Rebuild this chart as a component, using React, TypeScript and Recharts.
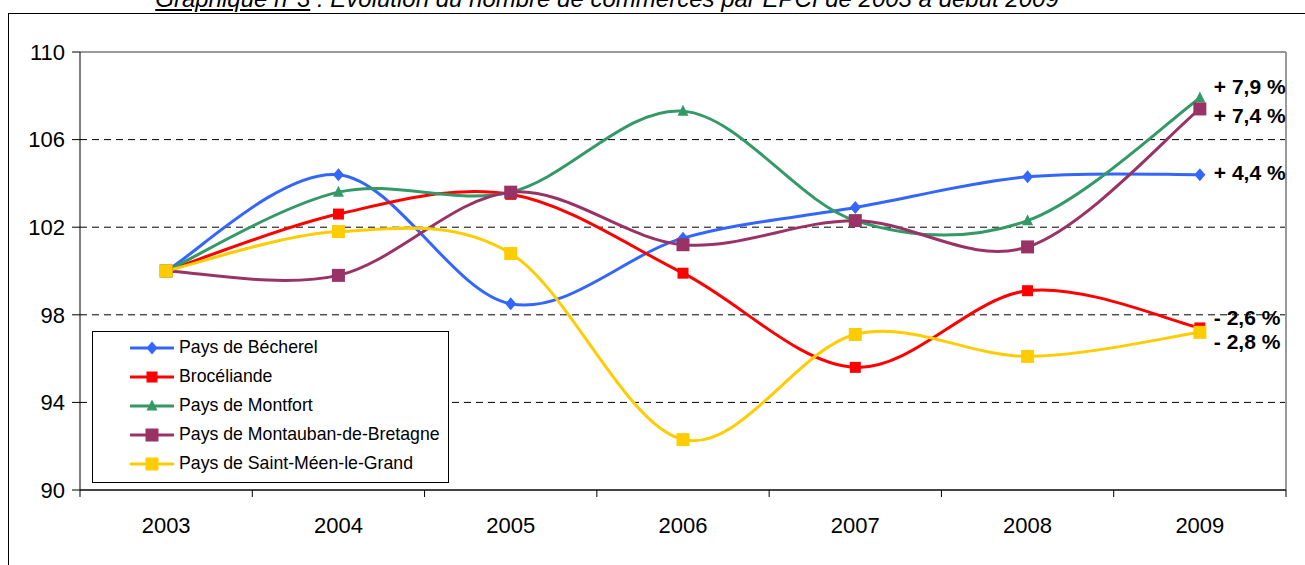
import React from "react";
import { LineChart, Line, XAxis, YAxis, CartesianGrid, Legend, ReferenceLine } from "recharts";

const years = ["2003", "2004", "2005", "2006", "2007", "2008", "2009"];
const becherel = [100, 104.4, 98.5, 101.5, 102.9, 104.3, 104.4];
const broceliande = [100, 102.6, 103.5, 99.9, 95.6, 99.1, 97.4];
const montfort = [100, 103.6, 103.6, 107.3, 102.3, 102.3, 107.9];
const montauban = [100, 99.8, 103.6, 101.2, 102.3, 101.1, 107.4];
const saintMeen = [100, 101.8, 100.8, 92.3, 97.1, 96.1, 97.2];
const seriesNames = [
  "Pays de Bécherel",
  "Brocéliande",
  "Pays de Montfort",
  "Pays de Montauban-de-Bretagne",
  "Pays de Saint-Méen-le-Grand",
];
const endLabels = ["+ 4,4 %", "- 2,6 %", "+ 7,9 %", "+ 7,4 %", "- 2,8 %"];
const yTicks = [90, 94, 98, 102, 106, 110];
const titleLead = "Graphique n°3";
const titleRest = " : Evolution du nombre de commerces par EPCI de 2003 à début 2009";

const W = 1305;
const H = 565;
const margin = { top: 52, right: 19, bottom: 0, left: 0 };
const Y_AXIS_W = 80;
const X_AXIS_H = 75;
const FONT = "'Liberation Sans', Arial, sans-serif";

const data = years.map((year, i) => ({
  year,
  becherel: becherel[i],
  broceliande: broceliande[i],
  montfort: montfort[i],
  montauban: montauban[i],
  saintMeen: saintMeen[i],
}));

// style of each series, same order as seriesNames / endLabels
const styles = [
  { key: "becherel", color: "#3366FF", shape: "diamond", size: 11, labelDy: -2 },
  { key: "broceliande", color: "#FF0000", shape: "square", size: 11, labelDy: -10 },
  { key: "montfort", color: "#339966", shape: "triangle", size: 11, labelDy: -11 },
  { key: "montauban", color: "#993366", shape: "square", size: 13, labelDy: 7 },
  { key: "saintMeen", color: "#FFCC00", shape: "square", size: 13, labelDy: 9 },
];

// excel-like smoothed line (catmull-rom style bezier)
const excelCurve = (context: any) => {
  let pts: number[][] = [];
  return {
    areaStart() {},
    areaEnd() {},
    lineStart() {
      pts = [];
    },
    point(x: number, y: number) {
      pts.push([+x, +y]);
    },
    lineEnd() {
      const n = pts.length;
      if (!n) return;
      context.moveTo(pts[0][0], pts[0][1]);
      for (let i = 0; i < n - 1; i++) {
        const p0 = pts[Math.max(i - 1, 0)];
        const p1 = pts[i];
        const p2 = pts[i + 1];
        const p3 = pts[Math.min(i + 2, n - 1)];
        context.bezierCurveTo(
          p1[0] + (p2[0] - p0[0]) / 6,
          p1[1] + (p2[1] - p0[1]) / 6,
          p2[0] - (p3[0] - p1[0]) / 6,
          p2[1] - (p3[1] - p1[1]) / 6,
          p2[0],
          p2[1]
        );
      }
    },
  };
};

function Marker({ cx, cy, shape, size, color }: any) {
  const h = size / 2;
  if (shape === "diamond")
    return <path d={`M${cx},${cy - h - 1}L${cx + h},${cy}L${cx},${cy + h + 1}L${cx - h},${cy}Z`} fill={color} />;
  if (shape === "triangle")
    return <path d={`M${cx},${cy - h - 1}L${cx + h},${cy + h - 1}L${cx - h},${cy + h - 1}Z`} fill={color} />;
  return <rect x={cx - h} y={cy - h} width={size} height={size} fill={color} />;
}

const makeDot = (s: any, label: string) => (props: any) => {
  const { cx, cy, index } = props;
  const last = index === years.length - 1;
  return (
    <g key={`dot-${s.key}-${index}`}>
      <Marker cx={cx} cy={cy} shape={s.shape} size={s.size} color={s.color} />
      {last && (
        <text x={cx + 14} y={cy + s.labelDy} dy="0.35em" fontSize={21} fontWeight="bold" fill="#000">
          {label}
        </text>
      )}
    </g>
  );
};

const halfBand = (W - margin.left - margin.right - Y_AXIS_W) / years.length / 2;

const XTick = (props: any) => {
  const { x, y, payload, index } = props;
  const half = payload && payload.offset ? payload.offset : halfBand;
  const last = index === years.length - 1;
  return (
    <g>
      <line x1={x - half} x2={x - half} y1={y} y2={y + 7} stroke="#000" />
      {last && <line x1={x + half} x2={x + half} y1={y} y2={y + 7} stroke="#000" />}
      <text x={x} y={y + 43} textAnchor="middle" fontSize={22} fill="#000">
        {payload.value}
      </text>
    </g>
  );
};

const LegendBox = () => (
  <div style={{ paddingTop: 1, fontFamily: FONT }}>
    {styles.map((s, i) => (
      <div key={s.key} style={{ display: "flex", alignItems: "center", height: 29, paddingLeft: 37 }}>
        <svg width={44} height={20} style={{ display: "block" }}>
          <line x1={0} x2={44} y1={10} y2={10} stroke={s.color} strokeWidth={3} />
          <Marker cx={22} cy={10} shape={s.shape} size={s.size} color={s.color} />
        </svg>
        <span style={{ marginLeft: 5, fontSize: 17.7, color: "#000", whiteSpace: "nowrap" }}>{seriesNames[i]}</span>
      </div>
    ))}
  </div>
);

export default function App() {
  return (
    <div
      style={{
        position: "absolute",
        left: 0,
        top: 0,
        width: W,
        height: H,
        overflow: "hidden",
        background: "#fff",
        fontFamily: FONT,
      }}
    >
      <div
        style={{
          position: "absolute",
          left: 607,
          top: -13,
          transform: "translateX(-50%)",
          whiteSpace: "nowrap",
          fontSize: 24,
          lineHeight: "24px",
          fontStyle: "italic",
          color: "#000",
        }}
      >
        <span style={{ textDecoration: "underline" }}>{titleLead}</span>
        {titleRest}
      </div>
      <div
        style={{
          position: "absolute",
          left: 8,
          top: 13,
          width: 1400,
          height: 700,
          borderLeft: "1.5px solid #000",
          borderTop: "1.5px solid #000",
        }}
      />
      <div style={{ position: "absolute", left: 0, top: 0 }}>
        <LineChart width={W} height={H} data={data} margin={margin}>
          <CartesianGrid vertical={false} stroke="#000" strokeDasharray="7 5" fill="#fff" />
          <CartesianGrid
            horizontal={false}
            stroke="#999"
            strokeWidth={2}
            verticalCoordinatesGenerator={({ offset }: any) => [offset.left + offset.width]}
          />
          <ReferenceLine y={110} stroke="#999" strokeWidth={2} />
          <XAxis
            dataKey="year"
            scale="band"
            height={X_AXIS_H}
            axisLine={{ stroke: "#444", strokeWidth: 2 }}
            tickLine={false}
            tickSize={0}
            tickMargin={0}
            tick={<XTick />}
            interval={0}
          />
          <YAxis
            width={Y_AXIS_W}
            domain={[90, 110]}
            ticks={yTicks}
            axisLine={{ stroke: "#000" }}
            tickLine={{ stroke: "#000" }}
            tickSize={8}
            tickMargin={7}
            tick={{ fill: "#000", fontSize: 22 }}
            interval={0}
          />
          <Legend
            layout="horizontal"
            verticalAlign="middle"
            align="center"
            content={<LegendBox />}
            wrapperStyle={{
              left: 92,
              top: 331,
              width: 357,
              height: 152,
              border: "1.5px solid #000",
              background: "#fff",
              boxSizing: "border-box",
            }}
          />
          {styles.map((s, i) => (
            <Line
              key={s.key}
              dataKey={s.key}
              name={seriesNames[i]}
              type={excelCurve as any}
              stroke={s.color}
              strokeWidth={3}
              dot={makeDot(s, endLabels[i])}
              activeDot={false}
              isAnimationActive={false}
            />
          ))}
        </LineChart>
      </div>
    </div>
  );
}
